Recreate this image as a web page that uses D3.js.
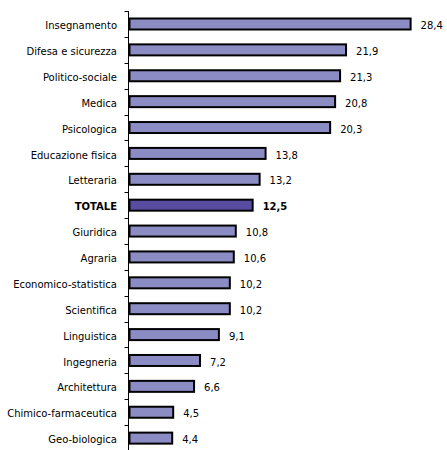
<!DOCTYPE html>
<html>
<head>
<meta charset="utf-8">
<script src="https://cdn.jsdelivr.net/npm/d3@7"></script>
<style>
  body { margin: 0; background: #fff; }
  svg { display: block; }
</style>
</head>
<body>
<div id="chart"></div>
<script>
const categories = ["Insegnamento", "Difesa e sicurezza", "Politico-sociale", "Medica", "Psicologica",
  "Educazione fisica", "Letteraria", "TOTALE", "Giuridica", "Agraria", "Economico-statistica",
  "Scientifica", "Linguistica", "Ingegneria", "Architettura", "Chimico-farmaceutica", "Geo-biologica"];
const values = [28.4, 21.9, 21.3, 20.8, 20.3, 13.8, 13.2, 12.5, 10.8, 10.6, 10.2, 10.2, 9.1, 7.2, 6.6, 4.5, 4.4];
const totalLabel = "TOTALE";

const width = 447, height = 450;
const axisX = 128.5;

const svg = d3.select("#chart").append("svg")
    .attr("width", width)
    .attr("height", height);

const xScale = d3.scaleLinear().domain([0, 30]).range([axisX, axisX + 298]);
const yScale = d3.scaleBand().domain(categories).range([11, 451]);

const data = categories.map((c, i) => ({cat: c, val: values[i]}));
const fmt = v => d3.format(".1f")(v).replace(".", ",");

// bars
svg.selectAll(".bar")
    .data(data)
    .join("rect")
    .attr("class", "bar")
    .attr("x", xScale(0) + 1)
    .attr("y", d => yScale(d.cat) + 7.5)
    .attr("width", d => xScale(d.val) - xScale(0) - 1)
    .attr("height", 11)
    .attr("fill", d => d.cat === totalLabel ? "#584ca0" : "#8c8cc4")
    .attr("stroke", "#000")
    .attr("stroke-width", 2);

// category axis
const yAxis = svg.append("g")
    .attr("transform", `translate(${axisX},0)`);
yAxis.append("line")
    .attr("y1", yScale.range()[0]).attr("y2", yScale.range()[1])
    .attr("stroke", "#000");
yAxis.selectAll(".tick")
    .data(categories)
    .join("line")
    .attr("class", "tick")
    .attr("x1", -4).attr("x2", 0)
    .attr("y1", d => Math.round(yScale(d)) + 0.5)
    .attr("y2", d => Math.round(yScale(d)) + 0.5)
    .attr("stroke", "#000");

// category labels
svg.selectAll(".label")
    .data(data)
    .join("text")
    .attr("class", "label")
    .attr("x", 117)
    .attr("y", d => yScale(d.cat) + yScale.bandwidth() / 2 + 2)
    .attr("dy", "0.32em")
    .attr("text-anchor", "end")
    .attr("font-family", "DejaVu Sans, Verdana, sans-serif")
    .attr("font-size", "10px")
    .attr("font-weight", d => d.cat === totalLabel ? "bold" : "normal")
    .attr("fill", "#000")
    .text(d => d.cat);

// value labels
svg.selectAll(".value")
    .data(data)
    .join("text")
    .attr("class", "value")
    .attr("x", d => xScale(d.val) + 10)
    .attr("y", d => yScale(d.cat) + yScale.bandwidth() / 2 + 2)
    .attr("dy", "0.32em")
    .attr("font-family", "DejaVu Sans, Verdana, sans-serif")
    .attr("font-size", "10px")
    .attr("font-weight", d => d.cat === totalLabel ? "bold" : "normal")
    .attr("fill", "#000")
    .text(d => fmt(d.val));
</script>
</body>
</html>
